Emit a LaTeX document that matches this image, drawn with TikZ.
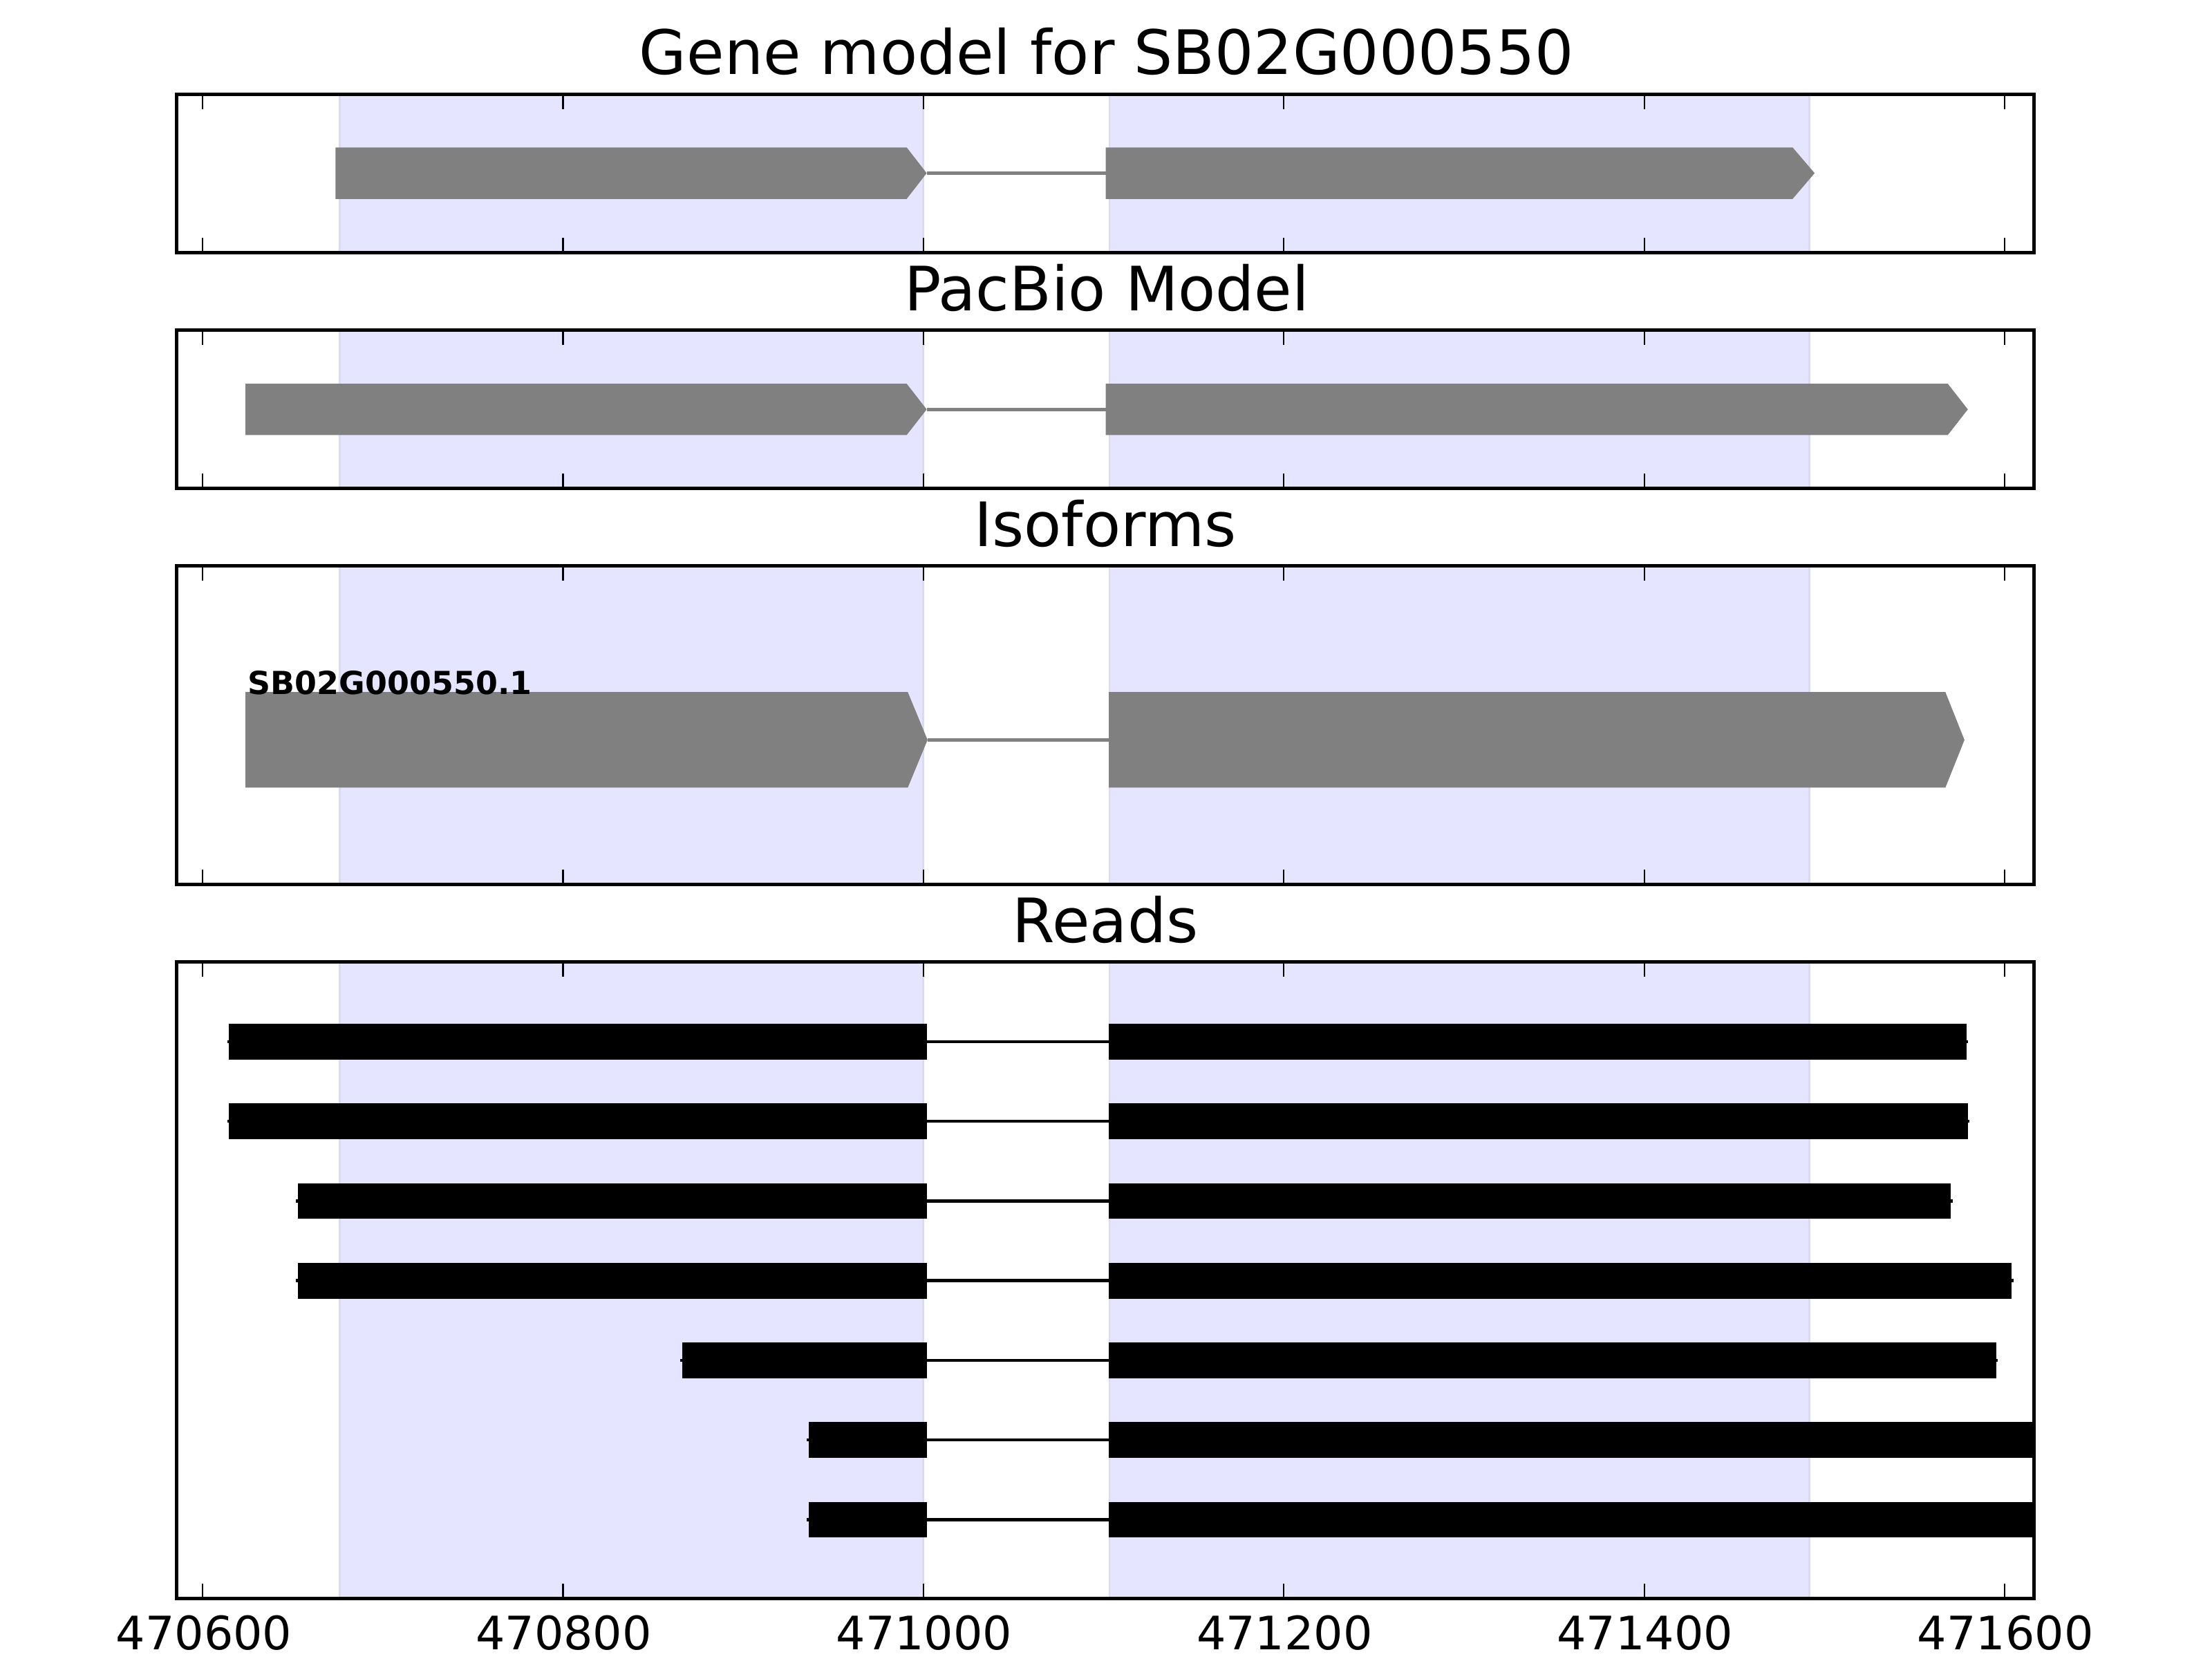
\documentclass[tikz,border=0pt]{standalone}
\usepackage{fontspec}
\setmainfont{DejaVu Sans}
\definecolor{spanfill}{rgb}{0.898,0.898,1}
\definecolor{spanedge}{rgb}{0.855,0.855,0.945}
\definecolor{exongray}{rgb}{0.5,0.5,0.5}
\tikzset{
  paneltitle/.style={font=\fontsize{24.7pt}{29pt}\selectfont, inner sep=0pt, anchor=base},
  ticklabel/.style={font=\fontsize{18.6pt}{22pt}\selectfont, inner sep=0pt, anchor=base},
  isolabel/.style={font=\bfseries\fontsize{12.8pt}{15pt}\selectfont, inner sep=0pt, anchor=base west},
  exon/.style={fill=exongray},
  intron/.style={draw=exongray, line width=0.05cm},
  readbar/.style={fill=black},
  readline/.style={draw=black, line width=0.045cm, line cap=rect},
  tickmark/.style={draw=black, line width=0.022cm},
  frame/.style={draw=black, line width=0.05cm},
  spanline/.style={draw=spanedge, line width=0.025cm}
}
\begin{document}
\begin{tikzpicture}[x=0.02cm,y=-0.02cm]
\useasboundingbox (0,0) rectangle (1568,1176);
\fill[white] (0,0) rectangle (1568,1176);
% shaded exon regions
\foreach \t/\b in {67/179,234/346,401/627,682/1133} {
  \fill[spanfill] (240.8,\t) rectangle (654.3,\b);
  \fill[spanfill] (786.4,\t) rectangle (1282.5,\b);
  \draw[spanline] (240.8,\t) -- (240.8,\b);
  \draw[spanline] (654.3,\t) -- (654.3,\b);
  \draw[spanline] (786.4,\t) -- (786.4,\b);
  \draw[spanline] (1282.5,\t) -- (1282.5,\b);
}
% gene model
\coordinate (g1e) at (656.9,122.75);
\coordinate (g2s) at (783.8,122.75);
\draw[intron] (g1e) -- (g2s);
\fill[exon] (237.8,104.5) -- (642.7,104.5) -- (g1e) -- (642.7,141) -- (237.8,141) -- cycle;
\fill[exon] (783.8,104.5) -- (1270.7,104.5) -- (1286.3,122.75) -- (1270.7,141) -- (783.8,141) -- cycle;
% PacBio model
\coordinate (p1e) at (656.9,290.2);
\coordinate (p2s) at (783.8,290.2);
\draw[intron] (p1e) -- (p2s);
\fill[exon] (174,272) -- (642.7,272) -- (p1e) -- (642.7,308.4) -- (174,308.4) -- cycle;
\fill[exon] (783.8,272) -- (1380.7,272) -- (1394.9,290.2) -- (1380.7,308.4) -- (783.8,308.4) -- cycle;
% Isoform
\coordinate (i1e) at (657.5,524.5);
\coordinate (i2s) at (786,524.5);
\draw[intron] (i1e) -- (i2s);
\fill[exon] (174,490.6) -- (643.5,490.6) -- (i1e) -- (643.5,558.3) -- (174,558.3) -- cycle;
\fill[exon] (786,490.6) -- (1379,490.6) -- (1392.5,524.5) -- (1379,558.3) -- (786,558.3) -- cycle;
\node[isolabel] (iso1) at (175.5,492) {SB02G000550.1};
% reads
\begin{scope}
\clip (125,682) rectangle (1442,1133);
\foreach \i/\s/\e in {0/162.2/1394,1/162.2/1395,2/211/1383,3/211/1426,4/483.4/1415,5/573.1/1445,6/573.1/1445} {
  \pgfmathsetmacro\yc{738.4+56.47*\i}
  \draw[readline] (\s,\yc) -- (\e,\yc);
  \fill[readbar] (\s,\yc-12.65) rectangle (657.3,\yc+12.65);
  \fill[readbar] (786,\yc-12.65) rectangle (\e,\yc+12.65);
}
\end{scope}
% ticks and frames
\foreach \t/\b in {67/179,234/346,401/627,682/1133} {
  \foreach \x in {143.6,399.1,654.6,910.1,1165.6,1421.1} {
    \draw[tickmark] (\x,\t) -- ++(0,10.5);
    \draw[tickmark] (\x,\b) -- ++(0,-10.5);
  }
  \draw[frame] (125,\t) rectangle (1442,\b);
}
% titles
\node[paneltitle] (t1) at (784.5,52.6) {Gene model for SB02G000550};
\node[paneltitle] (t2) at (784.5,220.2) {PacBio Model};
\node[paneltitle] (t3) at (783.5,387.5) {Isoforms};
\node[paneltitle] (t4) at (783.5,668.3) {Reads};
% tick labels
\node[ticklabel] (x1) at (144.6,1169.5) {470600};
\node[ticklabel] (x2) at (399.6,1169.5) {470800};
\node[ticklabel] (x3) at (655.1,1169.5) {471000};
\node[ticklabel] (x4) at (910.6,1169.5) {471200};
\node[ticklabel] (x5) at (1166.1,1169.5) {471400};
\node[ticklabel] (x6) at (1421.6,1169.5) {471600};
\end{tikzpicture}
\end{document}
